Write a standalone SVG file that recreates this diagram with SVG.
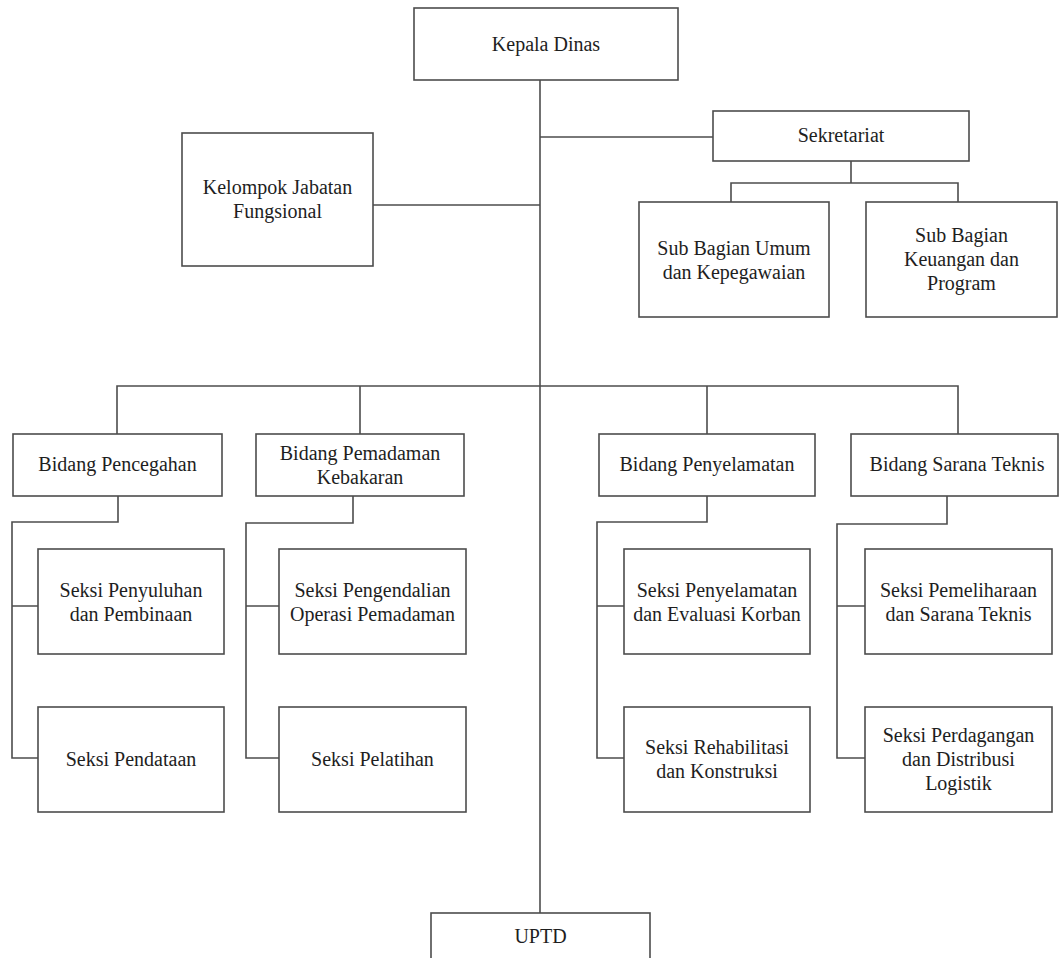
<svg xmlns="http://www.w3.org/2000/svg" width="1060" height="958" viewBox="0 0 1060 958">
<style>
.box{fill:#fff;stroke:#4d4d4d;stroke-width:1.6}
.ln{fill:none;stroke:#4d4d4d;stroke-width:1.6}
text{font-family:"Liberation Serif","Times New Roman",serif;font-size:20px;fill:#1e1e1e;text-anchor:middle}
</style>
<rect width="1060" height="958" fill="#fff"/>
<g id="connectors">
<path class="ln" d="M540 80V913"/>
<path class="ln" d="M540 137H713"/>
<path class="ln" d="M373 205H540"/>
<path class="ln" d="M851 161V183M731 202V183H958V202"/>
<path class="ln" d="M117 434V386H958V434M360 386V434M707 386V434"/>
<path class="ln" d="M118 496V522H12V758H38M12 606H38"/>
<path class="ln" d="M353 496V523H246V758H279M246 606H279"/>
<path class="ln" d="M707 496V522H597V758H624M597 606H624"/>
<path class="ln" d="M947 496V524H837V758H865M837 606H865"/>
</g>
<g id="kepala"><rect class="box" x="414" y="8" width="264" height="72"/><text x="546" y="51">Kepala Dinas</text></g>
<g id="kelompok"><rect class="box" x="182" y="133" width="191" height="133"/><text x="277.5" y="194">Kelompok Jabatan</text><text x="277.5" y="218">Fungsional</text></g>
<g id="sekretariat"><rect class="box" x="713" y="111" width="256" height="50"/><text x="841" y="142">Sekretariat</text></g>
<g id="subumum"><rect class="box" x="639" y="202" width="190" height="115"/><text x="734" y="255">Sub Bagian Umum</text><text x="734" y="279">dan Kepegawaian</text></g>
<g id="subkeuangan"><rect class="box" x="866" y="202" width="191" height="115"/><text x="961.5" y="242">Sub Bagian</text><text x="961.5" y="266">Keuangan dan</text><text x="961.5" y="290">Program</text></g>
<g id="pencegahan"><rect class="box" x="13" y="434" width="209" height="62"/><text x="117.5" y="471">Bidang Pencegahan</text></g>
<g id="pemadaman"><rect class="box" x="256" y="434" width="208" height="62"/><text x="360" y="460">Bidang Pemadaman</text><text x="360" y="484">Kebakaran</text></g>
<g id="penyelamatan"><rect class="box" x="599" y="434" width="216" height="62"/><text x="707" y="471">Bidang Penyelamatan</text></g>
<g id="sarana"><rect class="box" x="851" y="434" width="207" height="62"/><text x="957" y="471">Bidang Sarana Teknis</text></g>
<g id="penyuluhan"><rect class="box" x="38" y="549" width="186" height="105"/><text x="131" y="597">Seksi Penyuluhan</text><text x="131" y="621">dan Pembinaan</text></g>
<g id="pendataan"><rect class="box" x="38" y="707" width="186" height="105"/><text x="131" y="766">Seksi Pendataan</text></g>
<g id="pengendalian"><rect class="box" x="279" y="549" width="187" height="105"/><text x="372.5" y="597">Seksi Pengendalian</text><text x="372.5" y="621">Operasi Pemadaman</text></g>
<g id="pelatihan"><rect class="box" x="279" y="707" width="187" height="105"/><text x="372.5" y="766">Seksi Pelatihan</text></g>
<g id="seksipenyelamatan"><rect class="box" x="624" y="549" width="186" height="105"/><text x="717" y="597">Seksi Penyelamatan</text><text x="717" y="621">dan Evaluasi Korban</text></g>
<g id="rehabilitasi"><rect class="box" x="624" y="707" width="186" height="105"/><text x="717" y="754">Seksi Rehabilitasi</text><text x="717" y="778">dan Konstruksi</text></g>
<g id="pemeliharaan"><rect class="box" x="865" y="549" width="187" height="105"/><text x="958.5" y="597">Seksi Pemeliharaan</text><text x="958.5" y="621">dan Sarana Teknis</text></g>
<g id="perdagangan"><rect class="box" x="865" y="707" width="187" height="105"/><text x="958.5" y="742">Seksi Perdagangan</text><text x="958.5" y="766">dan Distribusi</text><text x="958.5" y="790">Logistik</text></g>
<g id="uptd"><rect class="box" x="431" y="913" width="219" height="70"/><text x="540.5" y="943">UPTD</text></g>
</svg>
